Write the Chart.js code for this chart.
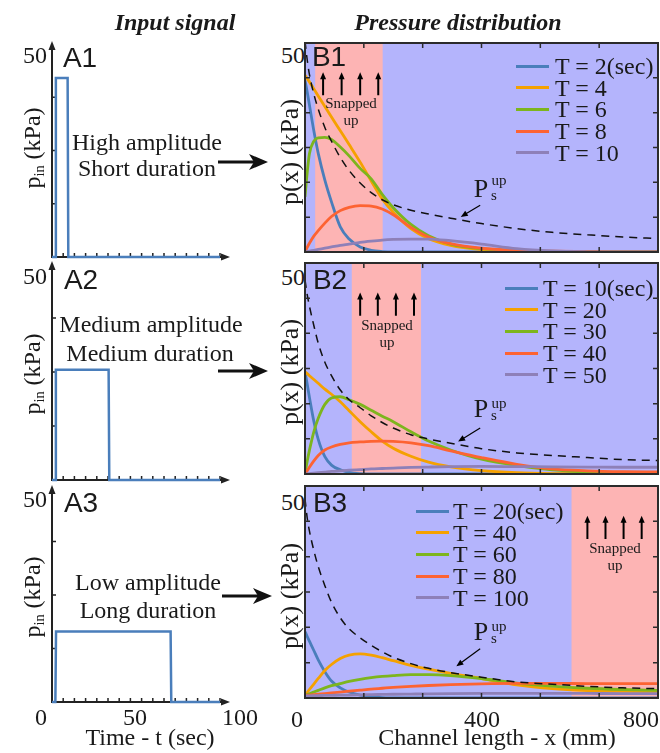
<!DOCTYPE html>
<html><head><meta charset="utf-8">
<script src="https://cdn.jsdelivr.net/npm/chart.js@4.4.1/dist/chart.umd.min.js"></script>
<style>
html,body{margin:0;padding:0;background:#fff}
#fig{position:relative;width:660px;height:753px;overflow:hidden;font-family:'Liberation Serif','Times New Roman',serif;color:#1a1a1a}
#fig canvas{position:absolute;z-index:1}
.t{position:absolute;white-space:nowrap;line-height:1;transform:translate(-50%,-50%);z-index:2}
.under{z-index:0}
.rot{transform:translate(-50%,-50%) rotate(-90deg)}
.ttl{font-weight:bold;font-style:italic;font-size:24px}
.lab{font-family:'Liberation Sans',Arial,sans-serif;font-size:28px}
.f24{font-size:24px}
.f26{font-size:26px}
.sm{font-size:15px}
.t sub{font-size:0.6em;line-height:0;vertical-align:-0.25em}
.leg{position:absolute;z-index:2;font-size:24px;line-height:1;white-space:nowrap}
.leg i{position:absolute;left:0;top:-1.5px;height:3px;width:33px}
.leg span{position:absolute;top:0;transform:translateY(-50%)}
</style></head><body><div id="fig"></div>
<script>
// ---- data ----
// input pulses: time (sec) / inlet pressure (kPa)
const A1_T=[0,1.9,2.3,9.3,9.7,100], A1_P=[0,0,42,42,0,0];
const A2_T=[0,1.9,2.3,33.7,34.1,100], A2_P=[0,0,25.5,25.5,0,0];
const A3_T=[0,2.0,2.4,70.6,71.0,100], A3_P=[0,0,16.5,16.5,0,0];

// channel positions (mm) shared by every pressure curve
const B_X=[0,5,10,20,30,45,60,80,100,125,150,175,200,240,280,330,400,480,560,640,720,800];

const B1_LABELS=['T = 2(sec)','T = 4','T = 6','T = 8','T = 10'];
const b1_T2 =[41,38.3,35.2,29,23.6,17.2,12,6,3.1,1.2,0.4,0.1,0,0,0,0,0,0,0,0,0,0];
const b1_T4 =[42.3,41.5,40.7,39,37.3,34.8,32.3,29,25.7,21.5,17,12.7,9.5,5.6,3.2,1.6,0.6,0.2,0.1,0,0,0];
const b1_T6 =[13.2,19,23.5,26.5,27.3,27.4,26.9,25.1,23,20,17.5,13.8,10.6,6.6,3.9,1.9,0.8,0.3,0.1,0,0,0];
const b1_T8 =[0,1.1,2.1,3.8,5.1,6.9,8.5,9.9,10.7,11.1,11,10.3,8.9,5.9,3.6,2.0,0.9,0.4,0.2,0.1,0,0];
const b1_T10=[0,0.1,0.2,0.4,0.6,0.9,1.2,1.6,1.9,2.3,2.6,2.85,3.0,3.1,3.1,2.7,1.9,0.8,0.25,0.05,0,0];
const b1_PS =[50.5,46,42.5,37.8,34.2,29.8,26.5,22.6,19.5,16.5,14.2,12.5,11.3,10,9.1,8.1,6.8,5.6,4.7,4.1,3.6,3.2];
const SNAP_B1=[23,176];

const B2_LABELS=['T = 10(sec)','T = 20','T = 30','T = 40','T = 50'];
const b2_T10=[24.2,21.3,18.2,12.5,8.2,4.1,2.1,1.0,0.4,0.1,0,0,0,0,0,0,0,0,0,0,0,0];
const b2_T20=[24.2,23.8,23.3,22.4,21.5,20.1,18.9,17.1,15,12.4,10,7.8,6.1,4.2,2.8,1.7,0.8,0.3,0.1,0.05,0,0];
const b2_T30=[0,3,5.6,10,13.2,16.5,18,18.3,17.6,16.5,15.1,13.7,12.4,10,7.8,5.7,3.5,2.0,1.0,0.5,0.35,0.3];
const b2_T40=[0,0.8,1.6,3.1,4.4,5.7,6.4,7.0,7.4,7.6,7.75,7.8,7.75,7.4,6.7,5.5,3.9,2.3,1.2,0.75,0.55,0.5];
const b2_T50=[0,0.05,0.1,0.2,0.3,0.45,0.6,0.75,0.9,1.05,1.2,1.3,1.4,1.55,1.65,1.75,1.8,1.75,1.7,1.65,1.6,1.6];
const b2_PS =[46,42.5,39.8,35.2,31,26.5,23.3,19.9,17.6,15.7,13.8,12.2,10.9,9.3,8.3,7.3,6.0,5.0,4.4,3.9,3.4,3.2];
const SNAP_B2=[106,263];

const B3_LABELS=['T = 20(sec)','T = 40','T = 60','T = 80','T = 100'];
const b3_T20 =[15.7,14.5,13.4,11.2,9,6.2,4.0,2.4,1.4,0.7,0.3,0.1,0,0,0,0,0,0,0,0,0,0];
const b3_T40 =[0.6,1.3,2.0,3.3,4.6,6.5,7.9,9.3,10.1,10.4,10.1,9.5,8.8,7.7,6.8,5.8,4.6,3.1,2.2,1.75,1.55,1.5];
const b3_T60 =[0.6,0.8,1.0,1.4,1.8,2.4,2.9,3.4,3.9,4.4,4.8,5.1,5.3,5.5,5.5,5.3,4.6,3.5,2.8,2.3,2.0,1.8];
const b3_T80 =[0.6,0.65,0.7,0.8,0.9,1.05,1.2,1.4,1.6,1.85,2.1,2.3,2.5,2.75,2.95,3.15,3.35,3.45,3.45,3.4,3.4,3.4];
const b3_T100=[0.5,0.5,0.52,0.55,0.57,0.6,0.63,0.67,0.7,0.75,0.8,0.84,0.88,0.93,0.98,1.03,1.08,1.1,1.1,1.08,1.05,1.05];
const b3_PS  =[47,42.5,39.4,34.8,31,26.5,22.6,18.9,16.3,14.2,12.4,10.9,9.6,8.1,7.0,6.0,4.9,3.8,3.25,2.75,2.4,2.2];
const SNAP_B3=[604,800];

// ticks
const T_TICKS=Array.from({length:15},(_,i)=>(i+1)*100/15);
const PIN_TICKS=[12.5,25,37.5];
const X_TICKS=[133.33,266.67,400,533.33,666.67];
const P_TICKS=[8.33,16.67,25,33.33,41.67];
const T_TICK_LABELS=['0','50','100'];
const X_TICK_LABELS=['0','400','800'];

const COLORS=['#4a7ebb','#f5a100','#7db51d','#fd6332','#8e80b8'];
const LAV='#b4b4fc', PINK='#fdb4b4';

const fig=document.getElementById('fig');

const deco={
  id:'deco',
  beforeDatasetsDraw(chart,args,o){
    const {ctx,chartArea:a,scales:{x,y}}=chart;
    ctx.save();
    if(o.kind==='B'){
      ctx.fillStyle=LAV;ctx.fillRect(a.left,a.top,a.width,a.height);
      const x0=x.getPixelForValue(o.band[0]),x1=x.getPixelForValue(o.band[1]);
      ctx.fillStyle=PINK;ctx.fillRect(x0,a.top,x1-x0,a.height);
    }else{
      ctx.strokeStyle='#222';ctx.fillStyle='#222';ctx.lineWidth=2;
      ctx.beginPath();ctx.moveTo(a.left,a.bottom+1);ctx.lineTo(a.left,a.top+4);
      ctx.moveTo(a.left-1,a.bottom);ctx.lineTo(a.right+4,a.bottom);ctx.stroke();
      let tip=a.top-3;
      ctx.beginPath();ctx.moveTo(a.left,tip);ctx.lineTo(a.left-3.5,tip+9);ctx.lineTo(a.left+3.5,tip+9);ctx.fill();
      tip=a.right+10;
      ctx.beginPath();ctx.moveTo(tip,a.bottom);ctx.lineTo(tip-9,a.bottom-3.5);ctx.lineTo(tip-9,a.bottom+3.5);ctx.fill();
      ctx.lineWidth=1.5;ctx.beginPath();
      T_TICKS.forEach(v=>{const p=x.getPixelForValue(v);ctx.moveTo(p,a.bottom);ctx.lineTo(p,a.bottom-4);});
      PIN_TICKS.forEach(v=>{const p=y.getPixelForValue(v);ctx.moveTo(a.left,p);ctx.lineTo(a.left+4,p);});
      ctx.stroke();
    }
    ctx.restore();
  },
  afterDatasetsDraw(chart,args,o){
    if(o.kind!=='B')return;
    const {ctx,chartArea:a,scales:{x,y}}=chart;
    ctx.save();
    ctx.strokeStyle='#2b2b2b';ctx.lineWidth=1.5;ctx.beginPath();
    X_TICKS.forEach(v=>{const p=x.getPixelForValue(v);ctx.moveTo(p,a.top);ctx.lineTo(p,a.top+5);ctx.moveTo(p,a.bottom);ctx.lineTo(p,a.bottom-5);});
    P_TICKS.forEach(v=>{const p=y.getPixelForValue(v);ctx.moveTo(a.left,p);ctx.lineTo(a.left+5,p);ctx.moveTo(a.right,p);ctx.lineTo(a.right-5,p);});
    ctx.stroke();
    ctx.lineWidth=2;ctx.strokeRect(a.left,a.top,a.width,a.height);
    // "snapped up" arrows
    ctx.strokeStyle='#000';ctx.fillStyle='#000';
    o.arrows.forEach(v=>{
      const px=x.getPixelForValue(v),y0=y.getPixelForValue(37.5),y1=y.getPixelForValue(43);
      ctx.lineWidth=2;ctx.beginPath();ctx.moveTo(px,y0);ctx.lineTo(px,y1+5);ctx.stroke();
      ctx.beginPath();ctx.moveTo(px,y1);ctx.lineTo(px-3,y1+7);ctx.lineTo(px+3,y1+7);ctx.fill();
    });
    // pointer to the snap pressure curve
    const [p0,p1]=o.pointer;
    const sx=x.getPixelForValue(p0[0]),sy=y.getPixelForValue(p0[1]),ex=x.getPixelForValue(p1[0]),ey=y.getPixelForValue(p1[1]);
    const ang=Math.atan2(ey-sy,ex-sx);
    ctx.lineWidth=1.2;ctx.beginPath();ctx.moveTo(sx,sy);ctx.lineTo(ex-5*Math.cos(ang),ey-5*Math.sin(ang));ctx.stroke();
    ctx.beginPath();ctx.moveTo(ex,ey);
    ctx.lineTo(ex-7*Math.cos(ang)+3*Math.sin(ang),ey-7*Math.sin(ang)-3*Math.cos(ang));
    ctx.lineTo(ex-7*Math.cos(ang)-3*Math.sin(ang),ey-7*Math.sin(ang)+3*Math.cos(ang));ctx.fill();
    ctx.restore();
  }
};

function pts(xs,ys){return xs.map((v,i)=>({x:v,y:ys[i]}));}

function makeCanvas(left,top,w,h){
  const c=document.createElement('canvas');
  c.width=w;c.height=h;c.style.left=left+'px';c.style.top=top+'px';c.style.width=w+'px';c.style.height=h+'px';
  fig.appendChild(c);return c;
}

function chartOpts(xmax,pad,decoOpts){
  return {
    responsive:false,animation:false,events:[],devicePixelRatio:1,
    layout:{padding:pad},
    elements:{point:{radius:0}},
    scales:{x:{type:'linear',min:0,max:xmax,display:false},y:{type:'linear',min:0,max:50,display:false}},
    plugins:{legend:{display:false},tooltip:{enabled:false},deco:decoOpts}
  };
}

// input signal panels
[[A1_T,A1_P,44,257],[A2_T,A2_P,264,480],[A3_T,A3_P,488,702]].forEach(([ts,ps,top,bottom])=>{
  const c=makeCanvas(0,top-12,240,bottom-top+24);
  new Chart(c,{type:'line',
    data:{datasets:[{label:'p_in',data:pts(ts,ps),borderColor:COLORS[0],borderWidth:2.5,tension:0,fill:false,clip:4}]},
    options:chartOpts(100,{left:52,right:20,top:12,bottom:12},{kind:'A'}),
    plugins:[deco]});
});

// pressure distribution panels
const panelsB=[
  {top:43,bottom:252,labels:B1_LABELS,series:[b1_T2,b1_T4,b1_T6,b1_T8,b1_T10],ps:b1_PS,band:SNAP_B1,
   arrows:[41,83,125,166],pointer:[[397,11.2],[353,8.4]],leg:{sw:516,tx:555,y0:66}},
  {top:263,bottom:474,labels:B2_LABELS,series:[b2_T10,b2_T20,b2_T30,b2_T40,b2_T50],ps:b2_PS,band:SNAP_B2,
   arrows:[125,165,206,247],pointer:[[397,10.9],[347,7.7]],leg:{sw:505,tx:543,y0:288}},
  {top:486,bottom:698,labels:B3_LABELS,series:[b3_T20,b3_T40,b3_T60,b3_T80,b3_T100],ps:b3_PS,band:SNAP_B3,
   arrows:[640,681,722,763],pointer:[[397,11.6],[343,7.5]],leg:{sw:416,tx:453,y0:511}}
];
panelsB.forEach(p=>{
  const c=makeCanvas(280,p.top-12,380,p.bottom-p.top+24);
  const ds=p.series.map((ys,i)=>({label:p.labels[i],data:pts(B_X,ys),borderColor:COLORS[i],borderWidth:2.8,
    cubicInterpolationMode:'monotone',fill:false,order:6-i}));
  ds.push({label:'Ps_up',data:pts(B_X,p.ps),borderColor:'#111',borderWidth:1.5,borderDash:[8,6],
    cubicInterpolationMode:'monotone',fill:false,order:0});
  const ch=new Chart(c,{type:'line',data:{datasets:ds},
    options:chartOpts(800,{left:25,right:2,top:12,bottom:12},{kind:'B',band:p.band,arrows:p.arrows,pointer:p.pointer}),
    plugins:[deco]});
  // html legend built from the chart's datasets
  ch.data.datasets.slice(0,5).forEach((d,i)=>{
    const row=document.createElement('div');row.className='leg';
    row.style.left=p.leg.sw+'px';row.style.top=(p.leg.y0+i*21.7)+'px';
    row.innerHTML=`<i style="background:${d.borderColor}"></i><span style="left:${p.leg.tx-p.leg.sw}px">${d.label}</span>`;
    fig.appendChild(row);
  });
});

// text
function T(s,x,y,cls,html){
  const d=document.createElement('div');d.className='t '+(cls||'');
  if(html)d.innerHTML=s;else d.textContent=s;
  d.style.left=x+'px';d.style.top=y+'px';fig.appendChild(d);return d;
}
T('Input signal',175,22,'ttl');T('Pressure distribution',458,22,'ttl');
T('A1',80,58,'lab');T('A2',81,280,'lab');T('A3',81,503,'lab');
T('B1',329,57,'lab');T('B2',330,280,'lab');T('B3',330,503,'lab');
T('High amplitude',147,142,'f24');T('Short duration',147,168,'f24');
T('Medium amplitude',151,324,'f24');T('Medium duration',150,353,'f24');
T('Low amplitude',148,582,'f24');T('Long duration',148,610,'f24');
[55,276,499].forEach(y=>T('50',35,y,'f24'));
[55,277,502].forEach(y=>T('50',293,y,'f24 under'));
[41,135,240].forEach((x,i)=>T(T_TICK_LABELS[i],x,717,'f24'));
[297,482,641].forEach((x,i)=>T(X_TICK_LABELS[i],x,719,'f24'));
T('Time - t (sec)',150,737,'f24');T('Channel length - x (mm)',497,737,'f24');
[148,374,597].forEach(y=>T('p<sub>in</sub> (kPa)',32,y,'f24 rot',true));
[152,372,596].forEach(y=>T('p(x) (kPa)',290,y,'f26 rot'));
[[189,180,195],[409,403,415],[632,626,638]].forEach(([py,uy,sy])=>{
  T('P',481,py,'f26');T('up',499,uy,'sm');T('s',494,sy,'sm');
});
[[351,103,120],[387,325,342],[615,548,565]].forEach(([x,y1,y2])=>{T('Snapped',x,y1,'sm');T('up',x,y2,'sm');});

// arrows from the input descriptions to the distributions
const svgNS='http://www.w3.org/2000/svg';
const svg=document.createElementNS(svgNS,'svg');
svg.setAttribute('width',660);svg.setAttribute('height',753);
svg.style.cssText='position:absolute;left:0;top:0;z-index:2';
[[218,268,162],[218,268,371],[222,272,596]].forEach(([x0,x1,y])=>{
  const l=document.createElementNS(svgNS,'line');
  l.setAttribute('x1',x0);l.setAttribute('x2',x1-14);l.setAttribute('y1',y);l.setAttribute('y2',y);
  l.setAttribute('stroke','#111');l.setAttribute('stroke-width',3);svg.appendChild(l);
  const g=document.createElementNS(svgNS,'polygon');
  g.setAttribute('points',`${x1},${y} ${x1-19},${y-8} ${x1-14},${y} ${x1-19},${y+8}`);
  g.setAttribute('fill','#111');svg.appendChild(g);
});
fig.appendChild(svg);
</script>
</body></html>
